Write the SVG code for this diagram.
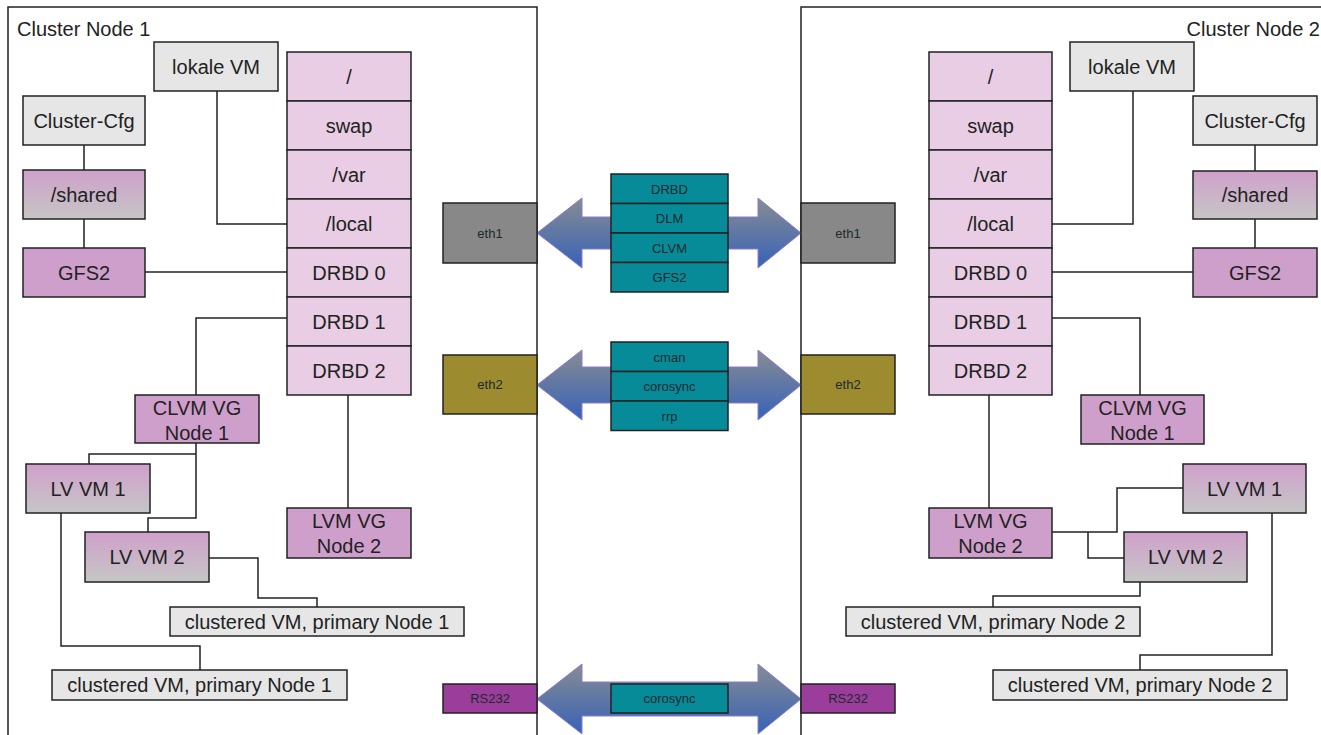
<svg xmlns="http://www.w3.org/2000/svg" width="1321" height="735" viewBox="0 0 1321 735">
<defs>
<linearGradient id="pg" x1="0" y1="0" x2="0" y2="1"><stop offset="0" stop-color="#cfa0cb"/><stop offset="1" stop-color="#c6c6c6"/></linearGradient>
<linearGradient id="ag" x1="0" y1="0" x2="0" y2="1"><stop offset="0" stop-color="#878c92"/><stop offset="1" stop-color="#3762b8"/></linearGradient>
<style>
.t{font-family:"Liberation Sans",Arial,sans-serif;font-size:20px;fill:#222;text-anchor:middle}
.s{font-family:"Liberation Sans",Arial,sans-serif;font-size:13px;fill:#1c2a2c;text-anchor:middle}
.b{stroke:#222;stroke-width:1.5}
.gray{fill:#e6e6e6}
.part{fill:#e8cde4}
.grad{fill:url(#pg)}
.vg{fill:#cf9fcc}
.teal{fill:#078b99}
.arr{fill:url(#ag);stroke:#8a7ad6;stroke-width:1}
.ln{fill:none;stroke:#222;stroke-width:1.5}
</style>
</defs>
<rect width="1321" height="735" fill="#fff"/>

<g id="cluster1"><rect x="8" y="7" width="529" height="760" fill="none" class="b"/><text x="17" y="36" class="t" style="text-anchor:start">Cluster Node 1</text></g>
<g id="cluster2"><rect x="801" y="7" width="540" height="760" fill="none" class="b"/><text x="1320" y="36" class="t" style="text-anchor:end">Cluster Node 2</text></g>

<g id="connectors">
<path class="ln" d="M84 145V170M84 219V248"/>
<path class="ln" d="M217 91V224H287"/>
<path class="ln" d="M145 272H287"/>
<path class="ln" d="M287 318H196V395"/>
<path class="ln" d="M348 395V508"/>
<path class="ln" d="M196 443V454H89V464M196 454V518H148V532"/>
<path class="ln" d="M209 558H258V598H317V607"/>
<path class="ln" d="M61 513V646H200V670"/>
<path class="ln" d="M1255 145V171M1255 219V248"/>
<path class="ln" d="M1133 91V224H1052"/>
<path class="ln" d="M1052 272H1193"/>
<path class="ln" d="M1052 318H1140V395"/>
<path class="ln" d="M989 395V508"/>
<path class="ln" d="M1052 532H1117V488H1183M1088 532V558H1124"/>
<path class="ln" d="M1140 582V596H993V607"/>
<path class="ln" d="M1272 513V655H1140V670"/>
<polygon class="arr" points="537,233 582,198 582,217 758,217 758,198 801,233 758,268 758,249 582,249 582,268"/>
<polygon class="arr" points="537,385 582,350 582,367 758,367 758,350 801,385 758,420 758,403 582,403 582,420"/>
<polygon class="arr" points="537,699 582,664 582,682 758,682 758,664 801,699 758,734 758,716 582,716 582,734"/>
</g>

<!-- Left cluster nodes -->
<g id="lokale-vm-1"><rect x="154" y="42" width="124" height="49" class="gray b"/><text x="216" y="73.5" class="t">lokale VM</text></g>
<g id="cluster-cfg-1"><rect x="23" y="96" width="122" height="49" class="gray b"/><text x="84" y="127.5" class="t">Cluster-Cfg</text></g>
<g id="shared-1"><rect x="23" y="170" width="122" height="49" class="grad b"/><text x="84" y="201.5" class="t">/shared</text></g>
<g id="gfs2-1"><rect x="23" y="248" width="122" height="49" class="vg b"/><text x="84" y="279.5" class="t">GFS2</text></g>
<g id="parts-1">
<rect x="287" y="52" width="124" height="49" class="part b"/><text x="349" y="83.5" class="t">/</text>
<rect x="287" y="101" width="124" height="49" class="part b"/><text x="349" y="132.5" class="t">swap</text>
<rect x="287" y="150" width="124" height="49" class="part b"/><text x="349" y="181.5" class="t">/var</text>
<rect x="287" y="199" width="124" height="49" class="part b"/><text x="349" y="230.5" class="t">/local</text>
<rect x="287" y="248" width="124" height="49" class="part b"/><text x="349" y="279.5" class="t">DRBD 0</text>
<rect x="287" y="297" width="124" height="49" class="part b"/><text x="349" y="328.5" class="t">DRBD 1</text>
<rect x="287" y="346" width="124" height="49" class="part b"/><text x="349" y="377.5" class="t">DRBD 2</text>
</g>
<g id="clvm-vg-1"><rect x="135" y="395" width="124" height="48" class="vg b"/><text x="197" y="415" class="t">CLVM VG</text><text x="197" y="440" class="t">Node 1</text></g>
<g id="lv-vm1-1"><rect x="26" y="464" width="124" height="49" class="grad b"/><text x="88" y="495.5" class="t">LV VM 1</text></g>
<g id="lv-vm2-1"><rect x="85" y="532" width="124" height="50" class="grad b"/><text x="147" y="564" class="t">LV VM 2</text></g>
<g id="lvm-vg-1"><rect x="287" y="508" width="124" height="50" class="vg b"/><text x="349" y="528" class="t">LVM VG</text><text x="349" y="553" class="t">Node 2</text></g>
<g id="cvm-a-1"><rect x="170" y="607" width="294" height="29" class="gray b"/><text x="317" y="628.5" class="t">clustered VM, primary Node 1</text></g>
<g id="cvm-b-1"><rect x="52" y="670" width="295" height="30" class="gray b"/><text x="199.5" y="692" class="t">clustered VM, primary Node 1</text></g>

<!-- Right cluster nodes -->
<g id="parts-2">
<rect x="929" y="52" width="123" height="49" class="part b"/><text x="990.5" y="83.5" class="t">/</text>
<rect x="929" y="101" width="123" height="49" class="part b"/><text x="990.5" y="132.5" class="t">swap</text>
<rect x="929" y="150" width="123" height="49" class="part b"/><text x="990.5" y="181.5" class="t">/var</text>
<rect x="929" y="199" width="123" height="49" class="part b"/><text x="990.5" y="230.5" class="t">/local</text>
<rect x="929" y="248" width="123" height="49" class="part b"/><text x="990.5" y="279.5" class="t">DRBD 0</text>
<rect x="929" y="297" width="123" height="49" class="part b"/><text x="990.5" y="328.5" class="t">DRBD 1</text>
<rect x="929" y="346" width="123" height="49" class="part b"/><text x="990.5" y="377.5" class="t">DRBD 2</text>
</g>
<g id="lokale-vm-2"><rect x="1070" y="42" width="124" height="49" class="gray b"/><text x="1132" y="73.5" class="t">lokale VM</text></g>
<g id="cluster-cfg-2"><rect x="1193" y="96" width="124" height="49" class="gray b"/><text x="1255" y="127.5" class="t">Cluster-Cfg</text></g>
<g id="shared-2"><rect x="1193" y="171" width="124" height="48" class="grad b"/><text x="1255" y="202" class="t">/shared</text></g>
<g id="gfs2-2"><rect x="1193" y="248" width="124" height="49" class="vg b"/><text x="1255" y="279.5" class="t">GFS2</text></g>
<g id="clvm-vg-2"><rect x="1081" y="395" width="123" height="49" class="vg b"/><text x="1142.5" y="415" class="t">CLVM VG</text><text x="1142.5" y="440" class="t">Node 1</text></g>
<g id="lv-vm1-2"><rect x="1183" y="464" width="123" height="49" class="grad b"/><text x="1244.5" y="495.5" class="t">LV VM 1</text></g>
<g id="lv-vm2-2"><rect x="1124" y="532" width="123" height="50" class="grad b"/><text x="1185.5" y="564" class="t">LV VM 2</text></g>
<g id="lvm-vg-2"><rect x="929" y="508" width="123" height="50" class="vg b"/><text x="990.5" y="528" class="t">LVM VG</text><text x="990.5" y="553" class="t">Node 2</text></g>
<g id="cvm-a-2"><rect x="846" y="607" width="294" height="29" class="gray b"/><text x="993" y="628.5" class="t">clustered VM, primary Node 2</text></g>
<g id="cvm-b-2"><rect x="993" y="670" width="294" height="30" class="gray b"/><text x="1140" y="692" class="t">clustered VM, primary Node 2</text></g>

<!-- Interfaces -->
<g id="eth1-1"><rect x="443" y="203" width="94" height="60" fill="#888888" class="b"/><text x="490" y="237.5" class="s">eth1</text></g>
<g id="eth1-2"><rect x="801" y="203" width="94" height="60" fill="#888888" class="b"/><text x="848" y="237.5" class="s">eth1</text></g>
<g id="eth2-1"><rect x="443" y="355" width="94" height="59" fill="#9c8b2f" class="b"/><text x="490" y="389" class="s">eth2</text></g>
<g id="eth2-2"><rect x="801" y="355" width="94" height="59" fill="#9c8b2f" class="b"/><text x="848" y="389" class="s">eth2</text></g>
<g id="rs232-1"><rect x="443" y="684" width="94" height="29" fill="#9b3d9b" class="b"/><text x="490" y="703" class="s">RS232</text></g>
<g id="rs232-2"><rect x="801" y="684" width="94" height="29" fill="#9b3d9b" class="b"/><text x="848" y="703" class="s">RS232</text></g>

<g id="stack-eth1">
<rect x="611" y="174" width="117" height="29.5" class="teal b"/><text x="669.5" y="193.5" class="s">DRBD</text>
<rect x="611" y="203.5" width="117" height="29.5" class="teal b"/><text x="669.5" y="223" class="s">DLM</text>
<rect x="611" y="233" width="117" height="29.5" class="teal b"/><text x="669.5" y="252.5" class="s">CLVM</text>
<rect x="611" y="262.5" width="117" height="29.5" class="teal b"/><text x="669.5" y="282" class="s">GFS2</text>
</g>
<g id="stack-eth2">
<rect x="611" y="342" width="117" height="29.5" class="teal b"/><text x="669.5" y="361.5" class="s">cman</text>
<rect x="611" y="371.5" width="117" height="29.5" class="teal b"/><text x="669.5" y="391" class="s">corosync</text>
<rect x="611" y="401" width="117" height="29.5" class="teal b"/><text x="669.5" y="420.5" class="s">rrp</text>
</g>
<g id="stack-rs232"><rect x="611" y="684" width="117" height="29" class="teal b"/><text x="669.5" y="703" class="s">corosync</text></g>
</svg>
